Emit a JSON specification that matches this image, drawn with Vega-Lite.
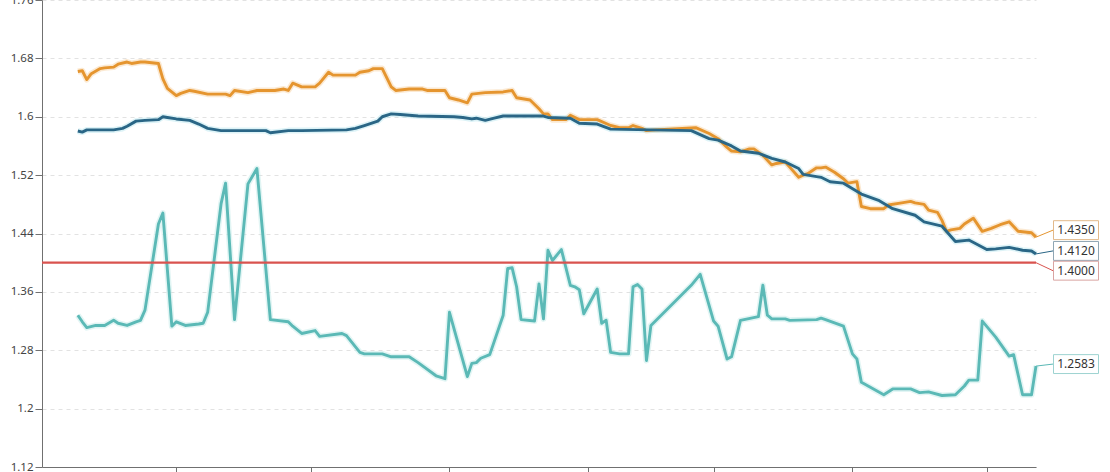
{
  "$schema": "https://vega.github.io/schema/vega-lite/v6.json",
  "width": 994,
  "height": 467,
  "autosize": {"type": "none"},
  "padding": {"left": 42, "top": 0, "right": 74, "bottom": 5},
  "background": "white",
  "config": {
    "view": {"stroke": null},
    "font": "Noto Sans",
    "axisY": {
      "grid": true, "gridDash": [4, 4], "gridColor": "#e2e2e2", "gridWidth": 1,
      "domainColor": "#707070", "tickColor": "#707070", "tickSize": 7,
      "labelColor": "#444444", "labelFontSize": 11.5, "labelFont": "Noto Sans", "labelPadding": 2
    },
    "axisX": {
      "grid": false, "labels": false, "domainColor": "#707070", "tickColor": "#707070", "tickSize": 7
    }
  },
  "datasets": {
    "lines": [
      {"date":"2024-10-10","series":"S1","value":1.662},
      {"date":"2024-10-11","series":"S1","value":1.663},
      {"date":"2024-10-12","series":"S1","value":1.651},
      {"date":"2024-10-13","series":"S1","value":1.659},
      {"date":"2024-10-15","series":"S1","value":1.666},
      {"date":"2024-10-16","series":"S1","value":1.667},
      {"date":"2024-10-18","series":"S1","value":1.668},
      {"date":"2024-10-19","series":"S1","value":1.672},
      {"date":"2024-10-21","series":"S1","value":1.675},
      {"date":"2024-10-22","series":"S1","value":1.673},
      {"date":"2024-10-24","series":"S1","value":1.675},
      {"date":"2024-10-25","series":"S1","value":1.675},
      {"date":"2024-10-28","series":"S1","value":1.673},
      {"date":"2024-10-29","series":"S1","value":1.652},
      {"date":"2024-10-30","series":"S1","value":1.639},
      {"date":"2024-11-01","series":"S1","value":1.629},
      {"date":"2024-11-02","series":"S1","value":1.632},
      {"date":"2024-11-04","series":"S1","value":1.636},
      {"date":"2024-11-05","series":"S1","value":1.635},
      {"date":"2024-11-08","series":"S1","value":1.631},
      {"date":"2024-11-12","series":"S1","value":1.631},
      {"date":"2024-11-13","series":"S1","value":1.629},
      {"date":"2024-11-14","series":"S1","value":1.636},
      {"date":"2024-11-17","series":"S1","value":1.633},
      {"date":"2024-11-19","series":"S1","value":1.636},
      {"date":"2024-11-23","series":"S1","value":1.636},
      {"date":"2024-11-25","series":"S1","value":1.638},
      {"date":"2024-11-26","series":"S1","value":1.636},
      {"date":"2024-11-27","series":"S1","value":1.646},
      {"date":"2024-11-29","series":"S1","value":1.641},
      {"date":"2024-12-02","series":"S1","value":1.641},
      {"date":"2024-12-03","series":"S1","value":1.646},
      {"date":"2024-12-05","series":"S1","value":1.661},
      {"date":"2024-12-06","series":"S1","value":1.657},
      {"date":"2024-12-11","series":"S1","value":1.657},
      {"date":"2024-12-12","series":"S1","value":1.661},
      {"date":"2024-12-14","series":"S1","value":1.663},
      {"date":"2024-12-15","series":"S1","value":1.666},
      {"date":"2024-12-17","series":"S1","value":1.666},
      {"date":"2024-12-19","series":"S1","value":1.641},
      {"date":"2024-12-20","series":"S1","value":1.636},
      {"date":"2024-12-23","series":"S1","value":1.638},
      {"date":"2024-12-26","series":"S1","value":1.638},
      {"date":"2024-12-27","series":"S1","value":1.636},
      {"date":"2024-12-31","series":"S1","value":1.636},
      {"date":"2025-01-01","series":"S1","value":1.626},
      {"date":"2025-01-03","series":"S1","value":1.623},
      {"date":"2025-01-05","series":"S1","value":1.619},
      {"date":"2025-01-06","series":"S1","value":1.631},
      {"date":"2025-01-09","series":"S1","value":1.633},
      {"date":"2025-01-13","series":"S1","value":1.634},
      {"date":"2025-01-15","series":"S1","value":1.636},
      {"date":"2025-01-16","series":"S1","value":1.626},
      {"date":"2025-01-19","series":"S1","value":1.623},
      {"date":"2025-01-21","series":"S1","value":1.611},
      {"date":"2025-01-22","series":"S1","value":1.604},
      {"date":"2025-01-23","series":"S1","value":1.604},
      {"date":"2025-01-24","series":"S1","value":1.596},
      {"date":"2025-01-27","series":"S1","value":1.596},
      {"date":"2025-01-28","series":"S1","value":1.602},
      {"date":"2025-01-30","series":"S1","value":1.596},
      {"date":"2025-02-03","series":"S1","value":1.596},
      {"date":"2025-02-06","series":"S1","value":1.588},
      {"date":"2025-02-08","series":"S1","value":1.585},
      {"date":"2025-02-10","series":"S1","value":1.585},
      {"date":"2025-02-11","series":"S1","value":1.588},
      {"date":"2025-02-13","series":"S1","value":1.584},
      {"date":"2025-02-14","series":"S1","value":1.581},
      {"date":"2025-02-16","series":"S1","value":1.582},
      {"date":"2025-02-25","series":"S1","value":1.585},
      {"date":"2025-02-28","series":"S1","value":1.577},
      {"date":"2025-03-02","series":"S1","value":1.570},
      {"date":"2025-03-04","series":"S1","value":1.558},
      {"date":"2025-03-05","series":"S1","value":1.553},
      {"date":"2025-03-07","series":"S1","value":1.552},
      {"date":"2025-03-09","series":"S1","value":1.556},
      {"date":"2025-03-10","series":"S1","value":1.556},
      {"date":"2025-03-12","series":"S1","value":1.547},
      {"date":"2025-03-14","series":"S1","value":1.534},
      {"date":"2025-03-15","series":"S1","value":1.536},
      {"date":"2025-03-17","series":"S1","value":1.538},
      {"date":"2025-03-18","series":"S1","value":1.531},
      {"date":"2025-03-20","series":"S1","value":1.517},
      {"date":"2025-03-21","series":"S1","value":1.520},
      {"date":"2025-03-22","series":"S1","value":1.522},
      {"date":"2025-03-24","series":"S1","value":1.530},
      {"date":"2025-03-25","series":"S1","value":1.530},
      {"date":"2025-03-26","series":"S1","value":1.531},
      {"date":"2025-03-28","series":"S1","value":1.524},
      {"date":"2025-03-30","series":"S1","value":1.515},
      {"date":"2025-03-31","series":"S1","value":1.509},
      {"date":"2025-04-02","series":"S1","value":1.511},
      {"date":"2025-04-03","series":"S1","value":1.477},
      {"date":"2025-04-05","series":"S1","value":1.474},
      {"date":"2025-04-08","series":"S1","value":1.474},
      {"date":"2025-04-09","series":"S1","value":1.479},
      {"date":"2025-04-12","series":"S1","value":1.482},
      {"date":"2025-04-14","series":"S1","value":1.484},
      {"date":"2025-04-15","series":"S1","value":1.482},
      {"date":"2025-04-17","series":"S1","value":1.480},
      {"date":"2025-04-18","series":"S1","value":1.472},
      {"date":"2025-04-20","series":"S1","value":1.469},
      {"date":"2025-04-21","series":"S1","value":1.458},
      {"date":"2025-04-22","series":"S1","value":1.443},
      {"date":"2025-04-23","series":"S1","value":1.445},
      {"date":"2025-04-25","series":"S1","value":1.447},
      {"date":"2025-04-26","series":"S1","value":1.453},
      {"date":"2025-04-28","series":"S1","value":1.461},
      {"date":"2025-04-30","series":"S1","value":1.443},
      {"date":"2025-05-02","series":"S1","value":1.447},
      {"date":"2025-05-04","series":"S1","value":1.452},
      {"date":"2025-05-06","series":"S1","value":1.456},
      {"date":"2025-05-08","series":"S1","value":1.443},
      {"date":"2025-05-11","series":"S1","value":1.441},
      {"date":"2025-05-12","series":"S1","value":1.435},

      {"date":"2024-10-10","series":"S2","value":1.5805},
      {"date":"2024-10-11","series":"S2","value":1.579},
      {"date":"2024-10-12","series":"S2","value":1.582},
      {"date":"2024-10-15","series":"S2","value":1.582},
      {"date":"2024-10-18","series":"S2","value":1.582},
      {"date":"2024-10-20","series":"S2","value":1.584},
      {"date":"2024-10-21","series":"S2","value":1.587},
      {"date":"2024-10-23","series":"S2","value":1.594},
      {"date":"2024-10-25","series":"S2","value":1.595},
      {"date":"2024-10-28","series":"S2","value":1.596},
      {"date":"2024-10-29","series":"S2","value":1.600},
      {"date":"2024-10-30","series":"S2","value":1.599},
      {"date":"2024-11-01","series":"S2","value":1.597},
      {"date":"2024-11-04","series":"S2","value":1.595},
      {"date":"2024-11-06","series":"S2","value":1.590},
      {"date":"2024-11-08","series":"S2","value":1.584},
      {"date":"2024-11-11","series":"S2","value":1.581},
      {"date":"2024-11-21","series":"S2","value":1.581},
      {"date":"2024-11-22","series":"S2","value":1.578},
      {"date":"2024-11-26","series":"S2","value":1.581},
      {"date":"2024-11-29","series":"S2","value":1.581},
      {"date":"2024-12-09","series":"S2","value":1.582},
      {"date":"2024-12-11","series":"S2","value":1.584},
      {"date":"2024-12-13","series":"S2","value":1.588},
      {"date":"2024-12-16","series":"S2","value":1.594},
      {"date":"2024-12-17","series":"S2","value":1.600},
      {"date":"2024-12-19","series":"S2","value":1.604},
      {"date":"2024-12-21","series":"S2","value":1.603},
      {"date":"2024-12-25","series":"S2","value":1.601},
      {"date":"2025-01-02","series":"S2","value":1.600},
      {"date":"2025-01-04","series":"S2","value":1.599},
      {"date":"2025-01-06","series":"S2","value":1.597},
      {"date":"2025-01-07","series":"S2","value":1.598},
      {"date":"2025-01-09","series":"S2","value":1.595},
      {"date":"2025-01-11","series":"S2","value":1.598},
      {"date":"2025-01-13","series":"S2","value":1.601},
      {"date":"2025-01-22","series":"S2","value":1.601},
      {"date":"2025-01-23","series":"S2","value":1.599},
      {"date":"2025-01-28","series":"S2","value":1.598},
      {"date":"2025-01-30","series":"S2","value":1.591},
      {"date":"2025-02-03","series":"S2","value":1.590},
      {"date":"2025-02-06","series":"S2","value":1.583},
      {"date":"2025-02-15","series":"S2","value":1.582},
      {"date":"2025-02-24","series":"S2","value":1.581},
      {"date":"2025-02-28","series":"S2","value":1.570},
      {"date":"2025-03-01","series":"S2","value":1.569},
      {"date":"2025-03-02","series":"S2","value":1.568},
      {"date":"2025-03-05","series":"S2","value":1.560},
      {"date":"2025-03-07","series":"S2","value":1.553},
      {"date":"2025-03-11","series":"S2","value":1.550},
      {"date":"2025-03-14","series":"S2","value":1.543},
      {"date":"2025-03-17","series":"S2","value":1.538},
      {"date":"2025-03-20","series":"S2","value":1.529},
      {"date":"2025-03-21","series":"S2","value":1.521},
      {"date":"2025-03-25","series":"S2","value":1.517},
      {"date":"2025-03-27","series":"S2","value":1.511},
      {"date":"2025-03-30","series":"S2","value":1.509},
      {"date":"2025-04-03","series":"S2","value":1.494},
      {"date":"2025-04-07","series":"S2","value":1.485},
      {"date":"2025-04-10","series":"S2","value":1.474},
      {"date":"2025-04-15","series":"S2","value":1.465},
      {"date":"2025-04-17","series":"S2","value":1.456},
      {"date":"2025-04-21","series":"S2","value":1.450},
      {"date":"2025-04-24","series":"S2","value":1.429},
      {"date":"2025-04-27","series":"S2","value":1.431},
      {"date":"2025-05-01","series":"S2","value":1.418},
      {"date":"2025-05-03","series":"S2","value":1.419},
      {"date":"2025-05-06","series":"S2","value":1.421},
      {"date":"2025-05-09","series":"S2","value":1.417},
      {"date":"2025-05-11","series":"S2","value":1.416},
      {"date":"2025-05-12","series":"S2","value":1.412},

      {"date":"2024-10-10","series":"S3","value":1.328},
      {"date":"2024-10-11","series":"S3","value":1.319},
      {"date":"2024-10-12","series":"S3","value":1.311},
      {"date":"2024-10-14","series":"S3","value":1.314},
      {"date":"2024-10-16","series":"S3","value":1.314},
      {"date":"2024-10-18","series":"S3","value":1.321},
      {"date":"2024-10-19","series":"S3","value":1.317},
      {"date":"2024-10-21","series":"S3","value":1.314},
      {"date":"2024-10-23","series":"S3","value":1.319},
      {"date":"2024-10-24","series":"S3","value":1.321},
      {"date":"2024-10-25","series":"S3","value":1.335},
      {"date":"2024-10-28","series":"S3","value":1.453},
      {"date":"2024-10-29","series":"S3","value":1.468},
      {"date":"2024-10-31","series":"S3","value":1.313},
      {"date":"2024-11-01","series":"S3","value":1.319},
      {"date":"2024-11-03","series":"S3","value":1.314},
      {"date":"2024-11-06","series":"S3","value":1.316},
      {"date":"2024-11-07","series":"S3","value":1.317},
      {"date":"2024-11-08","series":"S3","value":1.332},
      {"date":"2024-11-11","series":"S3","value":1.481},
      {"date":"2024-11-12","series":"S3","value":1.509},
      {"date":"2024-11-14","series":"S3","value":1.322},
      {"date":"2024-11-17","series":"S3","value":1.508},
      {"date":"2024-11-19","series":"S3","value":1.529},
      {"date":"2024-11-22","series":"S3","value":1.322},
      {"date":"2024-11-26","series":"S3","value":1.319},
      {"date":"2024-11-27","series":"S3","value":1.313},
      {"date":"2024-11-29","series":"S3","value":1.303},
      {"date":"2024-12-02","series":"S3","value":1.307},
      {"date":"2024-12-03","series":"S3","value":1.299},
      {"date":"2024-12-08","series":"S3","value":1.303},
      {"date":"2024-12-09","series":"S3","value":1.300},
      {"date":"2024-12-12","series":"S3","value":1.277},
      {"date":"2024-12-13","series":"S3","value":1.275},
      {"date":"2024-12-17","series":"S3","value":1.275},
      {"date":"2024-12-19","series":"S3","value":1.271},
      {"date":"2024-12-23","series":"S3","value":1.271},
      {"date":"2024-12-25","series":"S3","value":1.263},
      {"date":"2024-12-29","series":"S3","value":1.245},
      {"date":"2024-12-31","series":"S3","value":1.241},
      {"date":"2025-01-01","series":"S3","value":1.332},
      {"date":"2025-01-05","series":"S3","value":1.244},
      {"date":"2025-01-06","series":"S3","value":1.262},
      {"date":"2025-01-07","series":"S3","value":1.263},
      {"date":"2025-01-08","series":"S3","value":1.269},
      {"date":"2025-01-10","series":"S3","value":1.274},
      {"date":"2025-01-13","series":"S3","value":1.328},
      {"date":"2025-01-14","series":"S3","value":1.392},
      {"date":"2025-01-15","series":"S3","value":1.393},
      {"date":"2025-01-16","series":"S3","value":1.367},
      {"date":"2025-01-17","series":"S3","value":1.322},
      {"date":"2025-01-20","series":"S3","value":1.320},
      {"date":"2025-01-21","series":"S3","value":1.371},
      {"date":"2025-01-22","series":"S3","value":1.323},
      {"date":"2025-01-23","series":"S3","value":1.417},
      {"date":"2025-01-24","series":"S3","value":1.403},
      {"date":"2025-01-26","series":"S3","value":1.418},
      {"date":"2025-01-28","series":"S3","value":1.369},
      {"date":"2025-01-29","series":"S3","value":1.367},
      {"date":"2025-01-30","series":"S3","value":1.363},
      {"date":"2025-01-31","series":"S3","value":1.330},
      {"date":"2025-02-03","series":"S3","value":1.364},
      {"date":"2025-02-04","series":"S3","value":1.317},
      {"date":"2025-02-05","series":"S3","value":1.321},
      {"date":"2025-02-06","series":"S3","value":1.277},
      {"date":"2025-02-08","series":"S3","value":1.275},
      {"date":"2025-02-10","series":"S3","value":1.275},
      {"date":"2025-02-11","series":"S3","value":1.367},
      {"date":"2025-02-12","series":"S3","value":1.370},
      {"date":"2025-02-13","series":"S3","value":1.364},
      {"date":"2025-02-14","series":"S3","value":1.266},
      {"date":"2025-02-15","series":"S3","value":1.314},
      {"date":"2025-02-24","series":"S3","value":1.369},
      {"date":"2025-02-26","series":"S3","value":1.384},
      {"date":"2025-03-01","series":"S3","value":1.320},
      {"date":"2025-03-02","series":"S3","value":1.313},
      {"date":"2025-03-04","series":"S3","value":1.268},
      {"date":"2025-03-05","series":"S3","value":1.271},
      {"date":"2025-03-07","series":"S3","value":1.321},
      {"date":"2025-03-11","series":"S3","value":1.326},
      {"date":"2025-03-12","series":"S3","value":1.369},
      {"date":"2025-03-13","series":"S3","value":1.328},
      {"date":"2025-03-14","series":"S3","value":1.323},
      {"date":"2025-03-17","series":"S3","value":1.323},
      {"date":"2025-03-18","series":"S3","value":1.321},
      {"date":"2025-03-24","series":"S3","value":1.322},
      {"date":"2025-03-25","series":"S3","value":1.324},
      {"date":"2025-03-26","series":"S3","value":1.322},
      {"date":"2025-03-30","series":"S3","value":1.313},
      {"date":"2025-04-01","series":"S3","value":1.275},
      {"date":"2025-04-02","series":"S3","value":1.268},
      {"date":"2025-04-03","series":"S3","value":1.236},
      {"date":"2025-04-08","series":"S3","value":1.219},
      {"date":"2025-04-10","series":"S3","value":1.227},
      {"date":"2025-04-14","series":"S3","value":1.227},
      {"date":"2025-04-16","series":"S3","value":1.222},
      {"date":"2025-04-18","series":"S3","value":1.223},
      {"date":"2025-04-21","series":"S3","value":1.218},
      {"date":"2025-04-24","series":"S3","value":1.219},
      {"date":"2025-04-26","series":"S3","value":1.231},
      {"date":"2025-04-27","series":"S3","value":1.239},
      {"date":"2025-04-29","series":"S3","value":1.239},
      {"date":"2025-04-30","series":"S3","value":1.320},
      {"date":"2025-05-03","series":"S3","value":1.298},
      {"date":"2025-05-06","series":"S3","value":1.272},
      {"date":"2025-05-07","series":"S3","value":1.274},
      {"date":"2025-05-09","series":"S3","value":1.219},
      {"date":"2025-05-11","series":"S3","value":1.219},
      {"date":"2025-05-12","series":"S3","value":1.2583}
    ],
    "threshold": [{"value": 1.4}],
    "ends": [
      {"date":"2025-05-12","series":"S1","value":1.435},
      {"date":"2025-05-12","series":"S2","value":1.412},
      {"date":"2025-05-12","series":"Threshold","value":1.4},
      {"date":"2025-05-12","series":"S3","value":1.2583}
    ]
  },
  "encoding": {
    "x": {
      "field": "date", "type": "temporal", "title": null,
      "scale": {"type": "utc", "domain": [{"year": 2024, "month": 10, "date": 2, "utc": true}, {"year": 2025, "month": 5, "date": 12, "utc": true}], "nice": false},
      "axis": {"tickCount": {"interval": "month", "step": 1}}
    },
    "y": {
      "field": "value", "type": "quantitative", "title": null,
      "scale": {"domain": [1.12, 1.76], "nice": false, "zero": false},
      "axis": {"values": [1.12, 1.2, 1.28, 1.36, 1.44, 1.52, 1.6, 1.68, 1.76], "format": ".3~g"}
    }
  },
  "layer": [
    {
      "data": {"name": "lines"},
      "mark": {"type": "line", "strokeWidth": 6, "opacity": 0.45, "strokeJoin": "round"},
      "encoding": {
        "stroke": {"field": "series", "type": "nominal", "legend": null,
          "scale": {"domain": ["S1", "S2", "S3"], "range": ["#F6CF9C", "#B3E4EE", "#BFE9E7"]}}
      }
    },
    {
      "data": {"name": "lines"},
      "mark": {"type": "line", "strokeWidth": 2.9, "strokeJoin": "round"},
      "encoding": {
        "color": {"field": "series", "type": "nominal", "legend": null,
          "scale": {"domain": ["S1", "S2", "S3", "Threshold"], "range": ["#E5952F", "#2A6686", "#5BB9B6", "#D9534F"]}}
      }
    },
    {
      "data": {"name": "threshold"},
      "mark": {"type": "rule", "color": "#D9534F", "strokeWidth": 2.2},
      "encoding": {"x": null}
    },
    {
      "data": {"name": "ends"},
      "transform": [{"filter": "datum.series == 'S1'"}],
      "layer": [
        {"mark": {"type": "rule", "x2Offset": 17, "y2Offset": -7, "color": "#E5952F", "strokeWidth": 1},
         "encoding": {"x2": {"field": "date"}, "y2": {"field": "value"}}},
        {"mark": {"type": "point", "shape": "M-1,-0.42L1,-0.42L1,0.42L-1,0.42Z", "size": 2025, "filled": true, "fill": "white", "stroke": "#E2B98A", "strokeWidth": 1, "opacity": 1, "xOffset": 40, "yOffset": -7}},
        {"mark": {"type": "text", "xOffset": 40, "yOffset": -7, "fontSize": 12, "color": "#333333", "align": "center", "baseline": "middle"},
         "encoding": {"text": {"field": "value", "type": "quantitative", "format": ".4f"}}}
      ]
    },
    {
      "data": {"name": "ends"},
      "transform": [{"filter": "datum.series == 'S2'"}],
      "layer": [
        {"mark": {"type": "rule", "x2Offset": 17, "y2Offset": -3, "color": "#2A6686", "strokeWidth": 1},
         "encoding": {"x2": {"field": "date"}, "y2": {"field": "value"}}},
        {"mark": {"type": "point", "shape": "M-1,-0.42L1,-0.42L1,0.42L-1,0.42Z", "size": 2025, "filled": true, "fill": "white", "stroke": "#8FA6B4", "strokeWidth": 1, "opacity": 1, "xOffset": 40, "yOffset": -3}},
        {"mark": {"type": "text", "xOffset": 40, "yOffset": -3, "fontSize": 12, "color": "#333333", "align": "center", "baseline": "middle"},
         "encoding": {"text": {"field": "value", "type": "quantitative", "format": ".4f"}}}
      ]
    },
    {
      "data": {"name": "ends"},
      "transform": [{"filter": "datum.series == 'Threshold'"}],
      "layer": [
        {"mark": {"type": "rule", "x2Offset": 17, "y2Offset": 8, "color": "#D9534F", "strokeWidth": 1},
         "encoding": {"x2": {"field": "date"}, "y2": {"field": "value"}}},
        {"mark": {"type": "point", "shape": "M-1,-0.42L1,-0.42L1,0.42L-1,0.42Z", "size": 2025, "filled": true, "fill": "white", "stroke": "#D9A4A2", "strokeWidth": 1, "opacity": 1, "xOffset": 40, "yOffset": 8}},
        {"mark": {"type": "text", "xOffset": 40, "yOffset": 8, "fontSize": 12, "color": "#333333", "align": "center", "baseline": "middle"},
         "encoding": {"text": {"field": "value", "type": "quantitative", "format": ".4f"}}}
      ]
    },
    {
      "data": {"name": "ends"},
      "transform": [{"filter": "datum.series == 'S3'"}],
      "layer": [
        {"mark": {"type": "rule", "x2Offset": 17, "y2Offset": -2, "color": "#5BB9B6", "strokeWidth": 1},
         "encoding": {"x2": {"field": "date"}, "y2": {"field": "value"}}},
        {"mark": {"type": "point", "shape": "M-1,-0.42L1,-0.42L1,0.42L-1,0.42Z", "size": 2025, "filled": true, "fill": "white", "stroke": "#9DD3D1", "strokeWidth": 1, "opacity": 1, "xOffset": 40, "yOffset": -2}},
        {"mark": {"type": "text", "xOffset": 40, "yOffset": -2, "fontSize": 12, "color": "#333333", "align": "center", "baseline": "middle"},
         "encoding": {"text": {"field": "value", "type": "quantitative", "format": ".4f"}}}
      ]
    }
  ]
}
